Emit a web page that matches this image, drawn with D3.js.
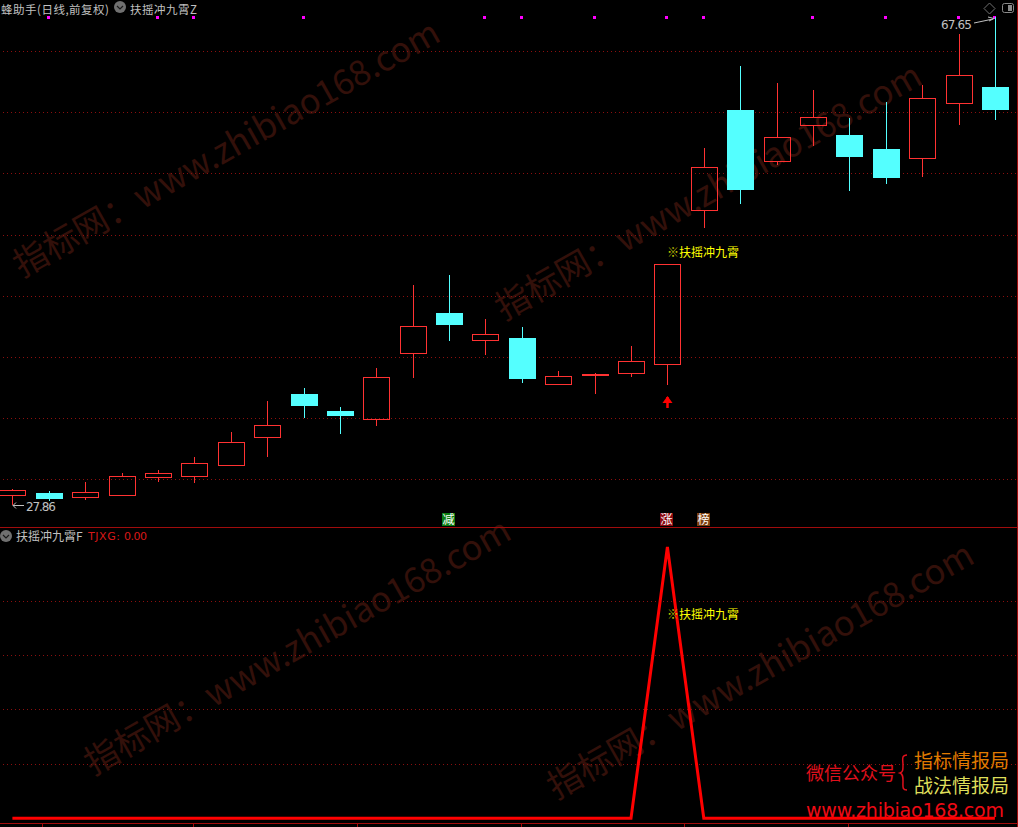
<!DOCTYPE html>
<html>
<head>
<meta charset="utf-8">
<style>
html, body { margin: 0; padding: 0; background: #000; overflow: hidden; }
text { font-family: "Noto Sans CJK SC", "DejaVu Sans", sans-serif; }
</style>
<script src="https://cdn.jsdelivr.net/npm/d3@7"></script>
</head>
<body>
<svg id="chart" width="1018" height="827"></svg>
<script>
var width = 1018
var height = 827

// K线数据 (开 高 低 收)
var opens = [28.37, 28.47, 28.26, 28.39, 29.34, 29.39, 29.96, 31.55, 34.09, 33.05, 32.57, 36.76, 39.49, 37.60, 37.74, 34.71, 35.29, 35.41, 36.00, 47.63, 57.12, 52.07, 55.59, 54.59, 53.21, 52.35, 57.85, 59.56]
var highs = [28.68, 28.58, 29.04, 29.53, 29.69, 30.40, 31.81, 33.66, 34.46, 33.29, 35.74, 41.56, 42.32, 39.07, 38.51, 35.54, 35.41, 37.19, 43.20, 53.31, 61.88, 60.00, 59.24, 56.31, 57.96, 59.78, 65.59, 67.65]
var lows = [27.86, 28.06, 28.11, 28.39, 29.04, 28.99, 29.96, 30.40, 32.63, 31.69, 32.16, 35.09, 37.53, 36.59, 34.77, 34.65, 34.09, 35.16, 34.65, 46.10, 48.15, 51.69, 53.51, 49.30, 49.93, 50.58, 55.59, 56.10]
var closes = [28.63, 28.16, 28.55, 29.37, 29.53, 30.07, 31.24, 32.22, 33.35, 32.75, 35.16, 38.57, 38.64, 38.01, 35.03, 35.22, 35.35, 36.19, 43.20, 51.50, 49.39, 54.39, 56.41, 52.45, 50.48, 58.38, 60.88, 57.12]

// 顶部品红标记所在的K线
var topMarks = [1, 4, 5, 8, 13, 14, 16, 18, 19, 22, 24, 26, 27]
// 信号K线
var signalIndex = 18
// 副图指标
var tjxg = [0, 0, 0, 0, 0, 0, 0, 0, 0, 0, 0, 0, 0, 0, 0, 0, 0, 0, 100, 0, 0, 0, 0, 0, 0, 0, 0, 0]
// 网格
var priceGrid = [63.57, 56.88, 50.90, 45.54, 40.75, 36.46, 32.63, 29.20]
var subGrid = [20, 40, 60, 80]
// 底部时间轴刻度 (K线序号)
var timeTicks = [0.82, 4.97, 9.47, 13.98, 18.46, 22.95]
var badges = [
    { idx: 12, label: "减", color: "#0b7d12" },
    { idx: 18, label: "涨", color: "#8a0a10" },
    { idx: 19, label: "榜", color: "#7d3f10" }
]
var maxLabel = "67.65"
var minLabel = "27.86"
var signalMark = "※"
var signalLabel = "扶摇冲九霄"
var watermark = "指标网：www.zhibiao168.com"

var RED = "#ff3232"
var CYAN = "#54ffff"
var GREY = "#c0c0c0"
var GRID = "#8c0f0f"

var svg = d3.select("#chart")
svg.append("rect").attr("width", width).attr("height", height).attr("fill", "#000")

// 比例尺
var xScale = d3.scaleLinear().domain([0, 27]).range([12.4, 994.9])
var yScale = d3.scaleLog().domain([27.86, 67.65]).range([505, 17])
var subScale = d3.scaleLinear().domain([0, 100]).range([818.3, 547])

function px(i) {
    return Math.round(xScale(i)) + 0.5
}

// 水印
var marks = [[22, 278], [504, 321], [93, 776], [556, 800]]
svg.append("g").selectAll("text")
    .data(marks)
    .enter()
    .append("text")
    .attr("transform", function (d) { return "translate(" + d[0] + "," + d[1] + ") rotate(-29.5)" })
    .attr("font-size", 34.5)
    .attr("fill", "#33100a")
    .style("font-family", '"Noto Sans CJK SC", "Open Sans", sans-serif')
    .text(watermark)

// 网格线
var grid = svg.append("g")
    .attr("stroke", GRID)
    .attr("stroke-dasharray", "1 3")
    .attr("shape-rendering", "crispEdges")
grid.selectAll(".priceGrid")
    .data(priceGrid)
    .enter()
    .append("line")
    .attr("class", "priceGrid")
    .attr("x1", 3)
    .attr("x2", 1016)
    .attr("y1", function (d) { return Math.round(yScale(d)) + 0.5 })
    .attr("y2", function (d) { return Math.round(yScale(d)) + 0.5 })
grid.selectAll(".subGrid")
    .data(subGrid)
    .enter()
    .append("line")
    .attr("class", "subGrid")
    .attr("x1", 3)
    .attr("x2", 1016)
    .attr("y1", function (d) { return Math.floor(subScale(d)) + 0.5 })
    .attr("y2", function (d) { return Math.floor(subScale(d)) + 0.5 })

// 边框和时间轴
var frame = svg.append("g").attr("stroke", "#a00c0c").attr("shape-rendering", "crispEdges")
frame.append("line").attr("x1", 0).attr("x2", width).attr("y1", 527.5).attr("y2", 527.5)
frame.append("line").attr("x1", 0).attr("x2", width).attr("y1", 823.5).attr("y2", 823.5)
frame.append("line").attr("x1", 1017.5).attr("x2", 1017.5).attr("y1", 0).attr("y2", height)
frame.selectAll(".tick")
    .data(timeTicks)
    .enter()
    .append("line")
    .attr("class", "tick")
    .attr("x1", function (d) { return Math.round(xScale(d)) + 0.5 })
    .attr("x2", function (d) { return Math.round(xScale(d)) + 0.5 })
    .attr("y1", 823)
    .attr("y2", 827)

// 顶部标记
svg.append("g").selectAll("rect")
    .data(topMarks)
    .enter()
    .append("rect")
    .attr("x", function (d) { return Math.round(xScale(d)) - 2 })
    .attr("y", 16)
    .attr("width", 3)
    .attr("height", 3)
    .attr("fill", "#ff00ff")

// 绘制K线
var candles = svg.append("g").attr("shape-rendering", "crispEdges")
var halfBody = 13
opens.forEach(function (open, i) {
    var close = closes[i]
    var up = close >= open
    var color = up ? RED : CYAN
    var x = px(i)
    var top = Math.round(yScale(Math.max(open, close)))
    var bottom = Math.round(yScale(Math.min(open, close)))
    var g = candles.append("g").attr("stroke", color)
    g.append("line")
        .attr("x1", x).attr("x2", x)
        .attr("y1", Math.round(yScale(highs[i]))).attr("y2", top)
    g.append("line")
        .attr("x1", x).attr("x2", x)
        .attr("y1", bottom).attr("y2", Math.round(yScale(lows[i])))
    if (up) {
        g.append("rect")
            .attr("x", x - halfBody)
            .attr("y", top + 0.5)
            .attr("width", halfBody * 2)
            .attr("height", Math.max(bottom - top, 1))
            .attr("fill", "none")
    } else {
        g.append("rect")
            .attr("x", x - halfBody - 0.5)
            .attr("y", top)
            .attr("width", halfBody * 2 + 1)
            .attr("height", Math.max(bottom - top, 1))
            .attr("fill", color)
            .attr("stroke", "none")
    }
})

// 信号箭头
var arrowX = px(signalIndex)
var arrowY = yScale(lows[signalIndex]) + 11
svg.append("line")
    .attr("x1", arrowX).attr("x2", arrowX)
    .attr("y1", arrowY + 1).attr("y2", arrowY + 12)
    .attr("stroke", "#ff0000").attr("stroke-width", 2.5)
svg.append("path")
    .attr("d", d3.line()([[arrowX - 5, arrowY + 7], [arrowX, arrowY], [arrowX + 5, arrowY + 7]]) + "Z")
    .attr("fill", "#ff0000")

// 副图折线
var subLine = d3.line()
    .x(function (d, i) { return xScale(i) })
    .y(function (d) { return subScale(d) })
svg.append("path")
    .datum(tjxg)
    .attr("d", subLine)
    .attr("fill", "none")
    .attr("stroke", "#ff0000")
    .attr("stroke-width", 3)
    .attr("stroke-linejoin", "miter")

// 信号文字
function addSignalLabel(y) {
    var t = svg.append("text")
        .attr("x", xScale(signalIndex) - 0.5)
        .attr("y", y)
        .attr("font-size", 12)
        .attr("fill", "#ffff00")
    t.append("tspan").attr("fill", "#c4c400").text(signalMark)
    t.append("tspan").text(signalLabel)
}
addSignalLabel(yScale(closes[signalIndex]) - 7)
addSignalLabel(619)

// 最高最低价标注
svg.append("text")
    .attr("x", 941).attr("y", yScale(highs[27]) + 12)
    .attr("font-size", 12).attr("fill", GREY)
    .style("font-family", '"DejaVu Sans", sans-serif')
    .attr("textLength", 31)
    .text(maxLabel)
svg.append("path")
    .attr("d", d3.line()([[974, 23], [993, 19]]))
    .attr("stroke", GREY).attr("fill", "none")
svg.append("path")
    .attr("d", d3.line()([[988, 17], [994, 18.5], [989, 21]]))
    .attr("stroke", GREY).attr("fill", "none")
svg.append("text")
    .attr("x", 26).attr("y", yScale(lows[0]) + 6)
    .attr("font-size", 12).attr("fill", GREY)
    .style("font-family", '"DejaVu Sans", sans-serif')
    .attr("textLength", 30)
    .text(minLabel)
svg.append("path")
    .attr("d", d3.line()([[24, 505.5], [13, 505.5]]))
    .attr("stroke", GREY).attr("fill", "none")
svg.append("path")
    .attr("d", d3.line()([[16, 502.5], [13, 505.5], [16, 508.5]]))
    .attr("stroke", GREY).attr("fill", "none")

// 角标
var badgeG = svg.selectAll(".badge")
    .data(badges)
    .enter()
    .append("g")
    .attr("class", "badge")
badgeG.append("rect")
    .attr("x", function (d) { return Math.round(xScale(d.idx)) - 7 })
    .attr("y", 513)
    .attr("width", 13)
    .attr("height", 13)
    .attr("fill", function (d) { return d.color })
badgeG.append("text")
    .attr("x", function (d) { return Math.round(xScale(d.idx)) - 0.5 })
    .attr("y", 524)
    .attr("text-anchor", "middle")
    .attr("font-size", 12)
    .attr("fill", "#fff")
    .text(function (d) { return d.label })

// 标题
function addText(x, y, str, size, color) {
    return svg.append("text")
        .attr("x", x).attr("y", y)
        .attr("font-size", size)
        .attr("fill", color)
        .text(str)
}
function addChevron(cx, cy) {
    svg.append("circle").attr("cx", cx).attr("cy", cy).attr("r", 6).attr("fill", "#707070")
    svg.append("path")
        .attr("d", d3.line()([[cx - 3, cy - 1], [cx, cy + 2], [cx + 3, cy - 1]]))
        .attr("stroke", "#1a1a1a").attr("stroke-width", 1.2).attr("fill", "none")
}
addText(1, 13.5, "蜂助手(日线,前复权)", 11.5, GREY).attr("textLength", 108)
addChevron(120, 7)
addText(130, 13.5, "扶摇冲九霄Z", 11.5, GREY).attr("textLength", 67)
addChevron(6, 536)
addText(16, 541, "扶摇冲九霄F", 12, GREY)
addText(88, 540, "TJXG:", 11, "#d81818").style("font-family", '"DejaVu Sans", sans-serif').attr("textLength", 32)
addText(124, 540, "0.00", 11, "#d81818").style("font-family", '"DejaVu Sans", sans-serif').attr("textLength", 23)

// 右上角按钮
svg.append("path")
    .attr("d", d3.line()([[989.5, 3], [995, 8.5], [989.5, 14], [984, 8.5]]) + "Z")
    .attr("fill", "none").attr("stroke", "#707070")
svg.append("rect")
    .attr("x", 1002.5).attr("y", 3.5).attr("width", 11).attr("height", 9).attr("rx", 2)
    .attr("fill", "none").attr("stroke", "#8a8a8a")
svg.append("rect")
    .attr("x", 1008).attr("y", 5).attr("width", 4).attr("height", 6)
    .attr("fill", "#8a8a8a")

// 右下角公众号
addText(806, 780, "微信公众号", 18, "#e0101c")
addText(914, 768, "指标情报局", 19, "#e07a00")
addText(914, 793, "战法情报局", 19, "#dede5a")
svg.append("path")
    .attr("d", "M907 755 C901 755 903 760 903 765 C903 770 903 772 900 773 C903 774 903 777 903 781 C903 787 902 790 907 790")
    .attr("fill", "none").attr("stroke", "#e0101c").attr("stroke-width", 1.5)
addText(806, 817, "www.zhibiao168.com", 19, "#ee0a14")
    .style("font-family", '"DejaVu Sans", sans-serif')
    .attr("textLength", 198)
</script>
</body>
</html>
